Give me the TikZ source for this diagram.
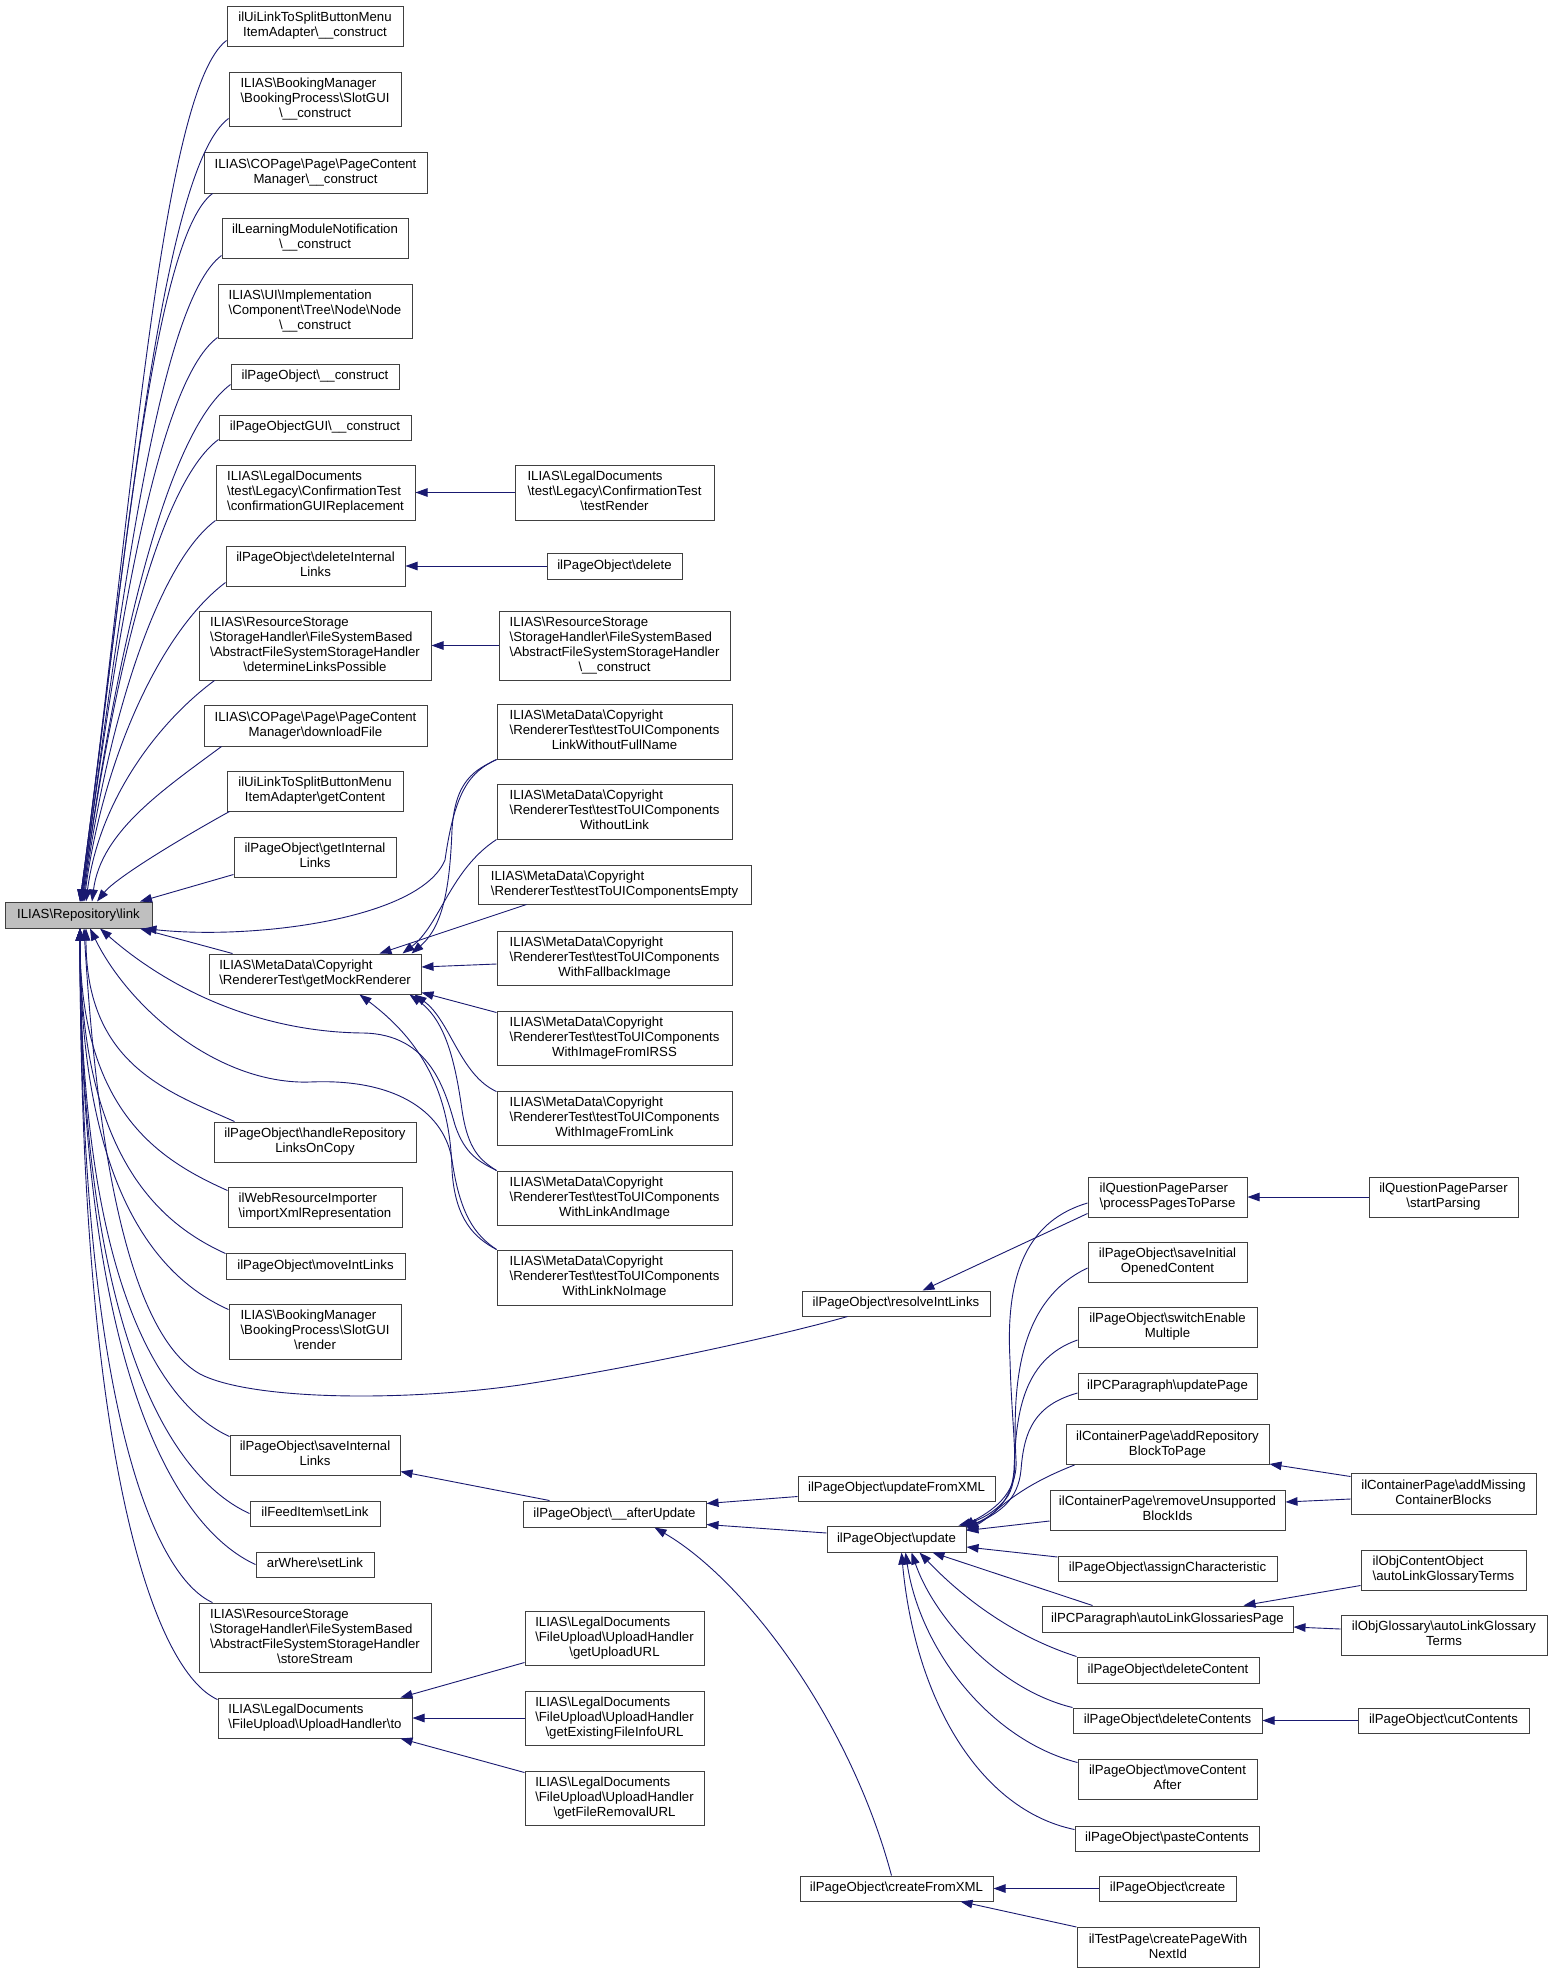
\documentclass[tikz,border=0pt]{standalone}
\usepackage{fontspec}
\setmainfont{Liberation Sans}
\usetikzlibrary{arrows.meta}
\definecolor{edgec}{HTML}{191970}
\definecolor{boxc}{HTML}{404040}
\definecolor{rootc}{HTML}{BFBFBF}
\newcommand\bsl{\textbackslash}
\newcommand\LtO[1]{\begin{tabular}{@{}c@{}}#1\end{tabular}}
\newcommand\LtA[2]{\begin{tabular}{@{}l@{}}#1\\\multicolumn{1}{@{}c@{}}{#2}\end{tabular}}
\newcommand\LtB[3]{\begin{tabular}{@{}l@{}}#1\\#2\\\multicolumn{1}{@{}c@{}}{#3}\end{tabular}}
\newcommand\LtC[4]{\begin{tabular}{@{}l@{}}#1\\#2\\#3\\\multicolumn{1}{@{}c@{}}{#4}\end{tabular}}
\newcommand\Nd[6]{\node[nd,minimum width=#4pt,minimum height=#5pt] (#1) at (#2,#3) {#6};}
\begin{document}
\begin{tikzpicture}[x=1pt,y=-1pt,
  nd/.style={draw=boxc,line width=1pt,inner sep=0pt,fill=white,font={\fontsize{13.2}{15}\selectfont}},
  edg/.style={draw=edgec,line width=0.9pt,arrows={Triangle[length=12pt,width=8.5pt]-}}]
\fill[white] (0,0) rectangle (1552,1973);
\useasboundingbox (0,0) rectangle (1552,1973);
% column 2
\Nd{uic}{315}{26}{176}{40}{\LtA{ilUiLinkToSplitButtonMenu}{ItemAdapter\bsl\_\_construct}}
\Nd{sgc}{315}{99}{172}{54}{\LtB{ILIAS\bsl BookingManager}{\bsl BookingProcess\bsl SlotGUI}{\bsl\_\_construct}}
\Nd{cpc}{315.5}{172.5}{223}{41}{\LtA{ILIAS\bsl COPage\bsl Page\bsl PageContent}{Manager\bsl\_\_construct}}
\Nd{lmn}{315}{238}{186}{40}{\LtA{ilLearningModuleNotification}{\bsl\_\_construct}}
\Nd{uin}{315}{311}{194}{54}{\LtB{ILIAS\bsl UI\bsl Implementation}{\bsl Component\bsl Tree\bsl Node\bsl Node}{\bsl\_\_construct}}
\Nd{poc}{315}{376.5}{168}{25}{\LtO{ilPageObject\bsl\_\_construct}}
\Nd{pgc}{315}{427.5}{192}{25}{\LtO{ilPageObjectGUI\bsl\_\_construct}}
\Nd{cgr}{315.5}{492.5}{199}{55}{\LtB{ILIAS\bsl LegalDocuments}{\bsl test\bsl Legacy\bsl ConfirmationTest}{\bsl confirmationGUIReplacement}}
\Nd{dil}{315.5}{566}{179}{40}{\LtA{ilPageObject\bsl deleteInternal}{Links}}
\Nd{dlp}{315}{645.5}{232}{69}{\LtC{ILIAS\bsl ResourceStorage}{\bsl StorageHandler\bsl FileSystemBased}{\bsl AbstractFileSystemStorageHandler}{\bsl determineLinksPossible}}
\Nd{dlf}{315.5}{725.5}{223}{41}{\LtA{ILIAS\bsl COPage\bsl Page\bsl PageContent}{Manager\bsl downloadFile}}
\Nd{gct}{315}{791}{176}{40}{\LtA{ilUiLinkToSplitButtonMenu}{ItemAdapter\bsl getContent}}
\Nd{gil}{315}{857}{162}{40}{\LtA{ilPageObject\bsl getInternal}{Links}}
\node[nd,fill=rootc,minimum width=147pt,minimum height=26pt] (link) at (78.5,915) {\LtO{ILIAS\bsl Repository\bsl link}};
\Nd{gmr}{315}{974}{212}{40}{\LtA{ILIAS\bsl MetaData\bsl Copyright}{\bsl RendererTest\bsl getMockRenderer}}
\Nd{hrl}{315}{1142}{202}{40}{\LtA{ilPageObject\bsl handleRepository}{LinksOnCopy}}
\Nd{wri}{315}{1207}{174}{40}{\LtA{ilWebResourceImporter}{\bsl importXmlRepresentation}}
\Nd{mil}{315.5}{1266}{179}{26}{\LtO{ilPageObject\bsl moveIntLinks}}
\Nd{sgr}{315}{1331.5}{172}{55}{\LtB{ILIAS\bsl BookingManager}{\bsl BookingProcess\bsl SlotGUI}{\bsl render}}
\Nd{sil}{315}{1455}{170}{40}{\LtA{ilPageObject\bsl saveInternal}{Links}}
\Nd{fsl}{315}{1513.5}{130}{25}{\LtO{ilFeedItem\bsl setLink}}
\Nd{asl}{315}{1564.5}{118}{25}{\LtO{arWhere\bsl setLink}}
\Nd{sst}{315}{1637.5}{232}{69}{\LtC{ILIAS\bsl ResourceStorage}{\bsl StorageHandler\bsl FileSystemBased}{\bsl AbstractFileSystemStorageHandler}{\bsl storeStream}}
\Nd{uht}{315}{1718}{194}{40}{\LtA{ILIAS\bsl LegalDocuments}{\bsl FileUpload\bsl UploadHandler\bsl to}}
% column 3
\Nd{trn}{614.5}{492.5}{199}{55}{\LtB{ILIAS\bsl LegalDocuments}{\bsl test\bsl Legacy\bsl ConfirmationTest}{\bsl testRender}}
\Nd{del}{614.5}{566}{135}{26}{\LtO{ilPageObject\bsl delete}}
\Nd{rsc}{614.5}{645.5}{231}{69}{\LtC{ILIAS\bsl ResourceStorage}{\bsl StorageHandler\bsl FileSystemBased}{\bsl AbstractFileSystemStorageHandler}{\bsl\_\_construct}}
\Nd{lwf}{614.5}{731.5}{235}{55}{\LtB{ILIAS\bsl MetaData\bsl Copyright}{\bsl RendererTest\bsl testToUIComponents}{LinkWithoutFullName}}
\Nd{wol}{614.5}{811.5}{235}{55}{\LtB{ILIAS\bsl MetaData\bsl Copyright}{\bsl RendererTest\bsl testToUIComponents}{WithoutLink}}
\Nd{emp}{614.5}{884.5}{273}{39}{\LtA{ILIAS\bsl MetaData\bsl Copyright}{\bsl RendererTest\bsl testToUIComponentsEmpty}}
\Nd{wfi}{614.5}{958}{235}{54}{\LtB{ILIAS\bsl MetaData\bsl Copyright}{\bsl RendererTest\bsl testToUIComponents}{WithFallbackImage}}
\Nd{wir}{614.5}{1038}{235}{54}{\LtB{ILIAS\bsl MetaData\bsl Copyright}{\bsl RendererTest\bsl testToUIComponents}{WithImageFromIRSS}}
\Nd{wil}{614.5}{1118}{235}{54}{\LtB{ILIAS\bsl MetaData\bsl Copyright}{\bsl RendererTest\bsl testToUIComponents}{WithImageFromLink}}
\Nd{wli}{614.5}{1198}{235}{54}{\LtB{ILIAS\bsl MetaData\bsl Copyright}{\bsl RendererTest\bsl testToUIComponents}{WithLinkAndImage}}
\Nd{wln}{614.5}{1277.5}{235}{55}{\LtB{ILIAS\bsl MetaData\bsl Copyright}{\bsl RendererTest\bsl testToUIComponents}{WithLinkNoImage}}
\Nd{aup}{614.5}{1514}{183}{26}{\LtO{ilPageObject\bsl\_\_afterUpdate}}
\Nd{guu}{614.5}{1638}{179}{54}{\LtB{ILIAS\bsl LegalDocuments}{\bsl FileUpload\bsl UploadHandler}{\bsl getUploadURL}}
\Nd{gef}{614.5}{1718}{179}{54}{\LtB{ILIAS\bsl LegalDocuments}{\bsl FileUpload\bsl UploadHandler}{\bsl getExistingFileInfoURL}}
\Nd{gfr}{614.5}{1798}{179}{54}{\LtB{ILIAS\bsl LegalDocuments}{\bsl FileUpload\bsl UploadHandler}{\bsl getFileRemovalURL}}
% column 4
\Nd{ril}{896}{1303.5}{188}{25}{\LtO{ilPageObject\bsl resolveIntLinks}}
\Nd{ufx}{896.5}{1488.5}{197}{25}{\LtO{ilPageObject\bsl updateFromXML}}
\Nd{upd}{896.5}{1539}{139}{26}{\LtO{ilPageObject\bsl update}}
\Nd{cfx}{896.5}{1888.5}{193}{25}{\LtO{ilPageObject\bsl createFromXML}}
% column 5
\Nd{ppp}{1167.5}{1197}{159}{40}{\LtA{ilQuestionPageParser}{\bsl processPagesToParse}}
\Nd{sio}{1167.5}{1262}{159}{40}{\LtA{ilPageObject\bsl saveInitial}{OpenedContent}}
\Nd{sem}{1167.5}{1327}{179}{40}{\LtA{ilPageObject\bsl switchEnable}{Multiple}}
\Nd{upp}{1167.5}{1386}{179}{26}{\LtO{ilPCParagraph\bsl updatePage}}
\Nd{arb}{1167.5}{1444.5}{203}{40}{\LtA{ilContainerPage\bsl addRepository}{BlockToPage}}
\Nd{rub}{1167.5}{1510}{235}{40}{\LtA{ilContainerPage\bsl removeUnsupported}{BlockIds}}
\Nd{asc}{1167.5}{1568.5}{219}{25}{\LtO{ilPageObject\bsl assignCharacteristic}}
\Nd{alg}{1167.5}{1619}{251}{26}{\LtO{ilPCParagraph\bsl autoLinkGlossariesPage}}
\Nd{dct}{1168}{1670}{182}{26}{\LtO{ilPageObject\bsl deleteContent}}
\Nd{dcs}{1167.5}{1720.5}{189}{25}{\LtO{ilPageObject\bsl deleteContents}}
\Nd{mca}{1167.5}{1779}{179}{40}{\LtA{ilPageObject\bsl moveContent}{After}}
\Nd{pcs}{1167}{1838.5}{184}{25}{\LtO{ilPageObject\bsl pasteContents}}
\Nd{crt}{1167.5}{1888.5}{137}{25}{\LtO{ilPageObject\bsl create}}
\Nd{cpn}{1168}{1947.5}{182}{40}{\LtA{ilTestPage\bsl createPageWith}{NextId}}
% column 6
\Nd{stp}{1443.5}{1197}{149}{40}{\LtA{ilQuestionPageParser}{\bsl startParsing}}
\Nd{amc}{1443.5}{1493.5}{185}{41}{\LtA{ilContainerPage\bsl addMissing}{ContainerBlocks}}
\Nd{oco}{1443.5}{1570}{165}{40}{\LtA{ilObjContentObject}{\bsl autoLinkGlossaryTerms}}
\Nd{ogl}{1444}{1635}{206}{40}{\LtA{ilObjGlossary\bsl autoLinkGlossary}{Terms}}
\Nd{ctc}{1443.5}{1720.5}{171}{25}{\LtO{ilPageObject\bsl cutContents}}
% ---- edges into link (upper)
\draw[edg] ([xshift=1.5pt]link.north) .. controls +(52,-388) and +(-66,50) .. ([yshift=6pt]uic.south west);
\draw[edg] ([xshift=1.5pt]link.north) .. controls +(47,-353) and +(-67,50) .. ([yshift=8pt]sgc.south west);
\draw[edg] ([xshift=1.5pt]link.north) .. controls +(43,-319) and +(-60,45) .. ([xshift=9pt]cpc.south west);
\draw[edg] ([xshift=2.5pt]link.north) .. controls +(39,-291) and +(-63,47) .. ([yshift=3pt]lmn.south west);
\draw[edg] ([xshift=2.5pt]link.north) .. controls +(34,-254) and +(-62,46) .. ([yshift=1pt]uin.south west);
\draw[edg] ([xshift=3.5pt]link.north) .. controls +(31,-233) and +(-67,50) .. ([yshift=5pt]poc.south west);
\draw[edg] ([xshift=3.5pt]link.north) .. controls +(28,-208) and +(-62,46) .. ([yshift=1pt]pgc.south west);
\draw[edg] ([xshift=4.5pt]link.north) .. controls +(23,-172) and +(-60,45) .. (cgr.south west);
\draw[edg] ([xshift=5.5pt]link.north) .. controls +(19,-144) and +(-64,48) .. ([yshift=4pt]dil.south west);
\draw[edg] ([xshift=7.5pt]link.north) .. controls +(13,-100) and +(-58,43) .. ([xshift=16pt]dlp.south west);
\draw[edg] ([xshift=13.5pt]link.north) .. controls +(9,-70) and +(-58,43) .. ([xshift=18pt]dlf.south west);
\draw[edg] ([xshift=18.5pt]link.north) .. controls +(20,-25) and +(-40,22) .. ([xshift=3pt]gct.south west);
\draw[edg] ([xshift=61.5pt]link.north) -- ([yshift=3pt]gil.south west);
% ---- edges into link (lower)
\draw[edg] ([xshift=61.5pt]link.south) -- ([xshift=24pt]gmr.north west);
\draw[edg] ([xshift=-8pt]link.south east) .. controls (250,940) and (420,920) .. (445,860) .. controls (455,790) and (470,772) .. (lwf.south west);
\draw[edg] ([xshift=7.5pt]link.south) .. controls +(0,136) and +(-67,-30) .. ([xshift=21pt]hrl.north west);
\draw[edg] ([xshift=1.5pt]link.south) .. controls +(0,184) and +(-67,-30) .. ([yshift=-4pt]wri.north west);
\draw[edg] ([xshift=1.5pt]link.south) .. controls +(0,228) and +(-66,-30) .. ([yshift=-1pt]mil.north west);
\draw[edg] ([xshift=1.5pt]link.south) .. controls +(0,267) and +(-67,-30) .. ([yshift=-6pt]sgr.north west);
\draw[edg] ([xshift=1.5pt]link.south) .. controls +(0,356) and +(-68,-31) .. ([yshift=-2pt]sil.north west);
\draw[edg] ([xshift=1.5pt]link.south) .. controls +(0,410) and +(-77,-35) .. (fsl.west);
\draw[edg] ([xshift=1.5pt]link.south) .. controls +(0,445) and +(-79,-36) .. (asl.west);
\draw[edg] ([xshift=1.5pt]link.south) .. controls +(0,472) and +(-60,-27) .. ([xshift=14pt]sst.north west);
\draw[edg] ([xshift=1.5pt]link.south) .. controls +(0,540) and +(-62,-28) .. ([yshift=-2pt]uht.north west);
\draw[edg] ([xshift=5.5pt]link.south) .. controls (100,1200) and (140,1340) .. (200,1374) .. controls (250,1400) and (400,1402) .. (520,1385) .. controls (650,1365) and (790,1333) .. ([xshift=46pt]ril.south west);
\draw[edg] ([xshift=21.5pt]link.south) .. controls (170,990) and (260,1032) .. (363,1033) .. controls (430,1034) and (445,1090) .. (455,1125) .. controls (465,1155) and (480,1162) .. (wli.north west);
\draw[edg] ([xshift=11.5pt]link.south) .. controls (130,1010) and (220,1085) .. (310,1082) .. controls (400,1078) and (445,1115) .. (452,1160) .. controls (460,1215) and (475,1235) .. (wln.north west);
% ---- getMockRenderer
\draw[edg] ([xshift=203pt]gmr.north west) .. controls (445,925) and (450,880) .. (452,830) .. controls (455,780) and (475,770) .. (lwf.south west);
\draw[edg] ([xshift=194pt]gmr.north west) .. controls (440,925) and (450,870) .. (wol.south west);
\draw[edg] ([xshift=171pt]gmr.north west) -- ([xshift=49pt]emp.south west);
\draw[edg] ([yshift=7pt]gmr.east) -- ([yshift=-6pt]wfi.west);
\draw[edg] ([yshift=2pt]gmr.south east) -- ([yshift=-2pt]wir.north west);
\draw[edg] ([xshift=206pt]gmr.south west) .. controls (450,1020) and (460,1075) .. ([yshift=-1pt]wil.north west);
\draw[edg] ([xshift=201pt]gmr.south west) .. controls (445,1020) and (455,1060) .. (462,1110) .. controls (468,1150) and (480,1160) .. (wli.north west);
\draw[edg] ([xshift=151pt]gmr.south west) .. controls (420,1040) and (450,1090) .. (452,1170) .. controls (455,1220) and (475,1238) .. (wln.north west);
% ---- simple right edges
\draw[edg] (cgr.east) -- (trn.west);
\draw[edg] (dil.east) -- (del.west);
\draw[edg] (dlp.east) -- (rsc.west);
\draw[edg] ([xshift=-12pt]uht.north east) -- ([yshift=3pt]guu.south west);
\draw[edg] (uht.east) -- (gef.west);
\draw[edg] ([xshift=-12pt]uht.south east) -- ([yshift=-2pt]gfr.north west);
% ---- afterUpdate
\draw[edg] ([yshift=4pt]sil.south east) -- ([xshift=27pt]aup.north west);
\draw[edg] ([yshift=-3pt]aup.north east) -- ([yshift=-8pt]ufx.west);
\draw[edg] ([yshift=3pt]aup.south east) -- ([yshift=6pt]upd.west);
\draw[edg] ([xshift=132pt]aup.south west) .. controls (745,1580) and (850,1720) .. ([xshift=92pt]cfx.north west);
\draw[edg] (cfx.east) -- (crt.west);
\draw[edg] ([xshift=-33pt]cfx.south east) -- (cpn.north west);
% ---- resolveIntLinks / parser
\draw[edg] ([xshift=121pt]ril.north west) -- ([yshift=4pt]ppp.south west);
\draw[edg] (ppp.east) -- (stp.west);
% ---- update
\draw[edg] ([xshift=-8pt]upd.north east) .. controls (980,1520) and (995,1512) .. (1005,1500) .. controls (1022,1480) and (1012,1440) .. (1010,1360) .. controls (1005,1270) and (1030,1220) .. ([yshift=-6pt]ppp.west);
\draw[edg] ([xshift=-4pt,yshift=-1pt]upd.north east) .. controls (990,1512) and (1018,1495) .. (1016,1460) .. controls (1012,1380) and (1020,1300) .. ([yshift=-6pt]sio.west);
\draw[edg] ([xshift=-1pt,yshift=-2pt]upd.north east) .. controls (995,1515) and (1012,1500) .. (1014,1470) .. controls (1016,1420) and (1020,1360) .. ([yshift=-13pt]sem.west);
\draw[edg] ([yshift=-3pt]upd.north east) .. controls (1000,1512) and (1018,1500) .. (1021,1470) .. controls (1024,1430) and (1035,1405) .. ([yshift=-7pt]upp.west);
\draw[edg] ([yshift=-5pt]upd.north east) .. controls (995,1515) and (1010,1490) .. ([xshift=9pt]arb.south west);
\draw[edg] ([yshift=-5pt]upd.north east) -- ([yshift=-11pt]rub.west);
\draw[edg] ([yshift=-8pt]upd.east) -- ([yshift=11.5pt]asc.west);
\draw[edg] ([xshift=106pt]upd.south west) -- ([xshift=51pt]alg.north west);
\draw[edg] ([xshift=93pt]upd.south west) .. controls (960,1595) and (1010,1635) .. (dct.north west);
\draw[edg] ([xshift=85pt]upd.south west) .. controls (935,1620) and (1000,1690) .. (dcs.north west);
\draw[edg] ([xshift=79pt]upd.south west) .. controls (920,1650) and (990,1740) .. ([yshift=-4pt]mca.north west);
\draw[edg] ([xshift=75pt]upd.south west) .. controls (915,1700) and (980,1810) .. ([yshift=-4pt]pcs.north west);
% ---- rightmost
\draw[edg] ([yshift=1pt]arb.south east) -- ([yshift=-4pt]amc.north west);
\draw[edg] ([yshift=8pt]rub.east) -- ([yshift=-5.5pt]amc.west);
\draw[edg] ([xshift=-50pt]alg.north east) -- ([yshift=5pt]oco.south west);
\draw[edg] ([yshift=-8pt]alg.east) -- ([yshift=6pt]ogl.west);
\draw[edg] (dcs.east) -- (ctc.west);
\end{tikzpicture}
\end{document}
